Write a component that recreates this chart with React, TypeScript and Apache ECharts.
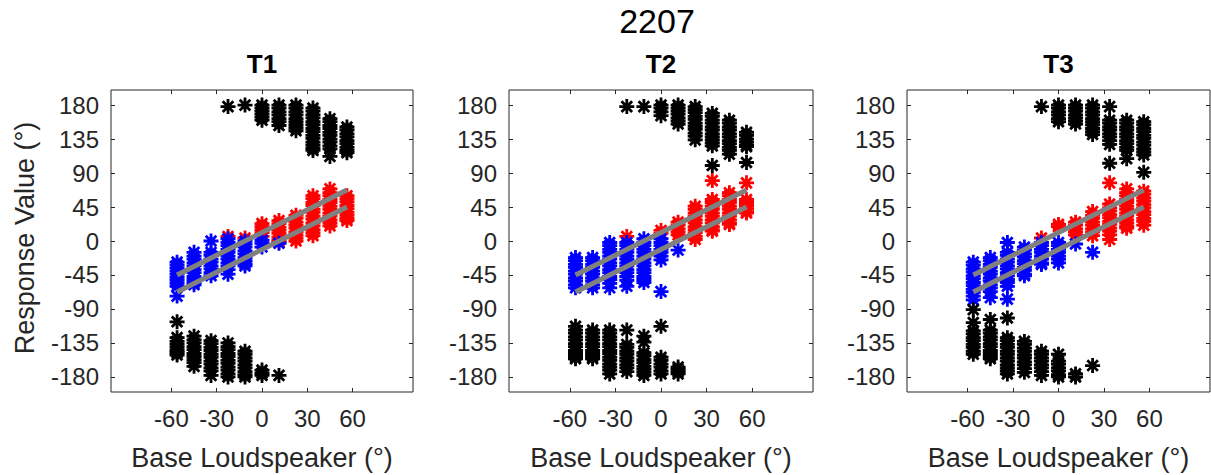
import React, { useEffect, useRef } from "react";
import * as echarts from "echarts";

// ---------- data ----------
const xCols = [-56.25, -45, -33.75, -22.5, -11.25, 0, 11.25, 22.5, 33.75, 45, 56.25];
const xTicks = [-60, -30, 0, 30, 60];
const yTicks = [-180, -135, -90, -45, 0, 45, 90, 135, 180];
const panelTitles = ["T1", "T2", "T3"];
const fitX = [-56.25, 56.25];
const upperFit = [-45, 67.5];
const lowerFit = [-67.5, 45];

// per column (aligned with xCols) response values
const t1Black = [
  [-107, -128, -133, -137, -141, -145, -148, -151],
  [-126, -131, -135, -140, -144, -149, -153, -157, -161, -166],
  [-132, -136, -141, -145, -150, -154, -159, -163, -168, -172, -178],
  [178, -135, -140, -144, -149, -153, -158, -162, -167, -171, -176, -180],
  [180, -146, -150, -155, -159, -164, -168, -173, -177, -180],
  [180, 176, 172, 168, 164, 160, -171, -175, -178],
  [180, 176, 171, 167, 162, 158, 153, -178],
  [180, 176, 171, 167, 162, 158, 154, 150, 146],
  [176, 172, 167, 163, 158, 154, 149, 145, 140, 136, 131, 127, 123, 120],
  [162, 158, 153, 149, 144, 140, 135, 131, 126, 122, 112],
  [151, 147, 142, 138, 133, 129, 124, 120, 117],
];
const t1Blue = [
  [-28, -32, -36, -40, -44, -48, -52, -56, -60, -73],
  [-15, -20, -24, -29, -33, -38, -42, -47, -51, -55, -58],
  [0, -15, -19, -24, -28, -33, -37, -42, -46],
  [3, -2, -6, -11, -15, -20, -24, -29, -33, -38, -44],
  [0, -4, -8, -13, -17, -22, -26, -30, -33],
  [1, -3, -8],
  [-3],
  [],
  [],
  [],
  [],
];
const t1Red = [
  [],
  [],
  [],
  [6],
  [4],
  [23, 19, 15, 11, 6],
  [27, 23, 18, 14, 10, 5, 1, -1],
  [34, 30, 25, 21, 17, 12, 8, 4, 0],
  [60, 56, 51, 47, 42, 38, 33, 29, 24, 20, 15, 11, 7],
  [69, 64, 60, 55, 51, 46, 42, 37, 33, 28, 24, 20],
  [60, 56, 52, 47, 43, 38, 34, 30, 27],
];

const t2Black = [
  [-113, -118, -122, -127, -131, -136, -140, -145, -149, -153, -156],
  [-118, -122, -127, -131, -136, -140, -145, -149, -153, -156],
  [-118, -122, -127, -131, -136, -140, -145, -149, -154, -158, -163, -167, -171, -176],
  [178, -118, -137, -141, -146, -150, -155, -159, -164, -168, -173],
  [178, -126, -134, -148, -152, -157, -161, -166, -170, -174, -178],
  [180, 176, 171, 166, -113, -154, -158, -163, -167, -172, -176],
  [180, 176, 172, 168, 163, 159, 155, -167, -170, -173, -176],
  [178, 174, 170, 165, 161, 156, 152, 148, 143, 139, 134],
  [169, 165, 160, 156, 151, 147, 142, 138, 134, 130, 126, 100],
  [160, 156, 151, 147, 142, 138, 133, 129, 124, 120, 115],
  [144, 140, 135, 131, 127, 125, 104],
];
const t2Blue = [
  [-22, -26, -31, -35, -40, -44, -49, -53, -58, -62],
  [-22, -26, -31, -35, -40, -44, -49, -53, -58, -62],
  [-2, -6, -11, -15, -20, -24, -29, -33, -38, -42, -47, -51, -56, -62],
  [-2, -6, -11, -15, -20, -24, -29, -33, -38, -42, -47, -52, -60],
  [3, -2, -6, -11, -15, -20, -24, -29, -33, -38, -42, -47, -51, -55],
  [3, -2, -6, -11, -15, -20, -25, -67],
  [-12],
  [],
  [],
  [],
  [],
];
const t2Red = [
  [],
  [],
  [],
  [6],
  [],
  [14, 10],
  [25, 21, 16, 12, 8],
  [46, 42, 37, 33, 28, 24, 19, 15, 11, 6, 2],
  [80, 55, 51, 46, 42, 37, 33, 28, 24, 19, 15, 13],
  [64, 60, 55, 51, 46, 42, 37, 33, 28, 24, 22],
  [77, 55, 51, 47, 43, 39, 37],
];

const t3Black = [
  [-91, -108, -119, -123, -128, -132, -137, -141, -146, -150],
  [-104, -118, -122, -127, -131, -136, -140, -145, -149, -153, -156],
  [-102, -128, -132, -137, -141, -146, -150, -155, -159, -164, -168, -172, -176],
  [-133, -137, -142, -146, -151, -155, -160, -164, -169, -174],
  [178, -146, -150, -155, -159, -164, -168, -173, -178],
  [180, 176, 171, 167, 162, 158, -150, -159, -163, -168, -172, -177, -180],
  [180, 176, 172, 167, 163, 159, 155, -176, -180],
  [180, 176, 171, 167, 162, 158, 154, 149, 145, 141, -165],
  [178, 160, 156, 151, 147, 142, 138, 133, 128, 103],
  [160, 156, 151, 147, 142, 138, 133, 129, 124, 120, 109],
  [158, 154, 149, 145, 140, 136, 131, 127, 122, 118, 114, 91],
];
const t3Blue = [
  [-28, -32, -37, -41, -46, -50, -55, -59, -64, -68, -73, -78],
  [-22, -26, -31, -35, -40, -44, -49, -53, -58, -62, -67, -75],
  [-2, -15, -19, -24, -28, -33, -37, -42, -46, -51, -55, -60, -77],
  [-8, -12, -17, -21, -26, -30, -35, -39, -44, -46],
  [-2, -6, -11, -15, -20, -24, -29, -31],
  [-2, -6, -11, -15, -20, -24, -29],
  [-4],
  [-15],
  [],
  [],
  [],
];
const t3Red = [
  [],
  [],
  [],
  [],
  [4],
  [22, 19],
  [25, 21, 16, 12, 8],
  [39, 34, 30, 25, 21, 16, 12, 7],
  [77, 49, 44, 40, 35, 31, 26, 22, 17, 13, 8, 2],
  [69, 64, 60, 55, 51, 46, 42, 37, 33, 28, 24, 20, 17],
  [66, 62, 57, 53, 48, 44, 39, 35, 30, 26, 21],
];

const panels = [
  { black: t1Black, blue: t1Blue, red: t1Red },
  { black: t2Black, blue: t2Blue, red: t2Red },
  { black: t3Black, blue: t3Blue, red: t3Red },
];

// ---------- layout ----------
const FONT = "'Liberation Sans', Arial, Helvetica, sans-serif";
const gridLefts = [111, 509, 907];
const gridWidths = [302, 304, 303];
const gridTop = 90;
const gridHeight = 302;
const AX = "#262626";
const ASTERISK =
  "path://M5,0L5,10M0,5L10,5M1.46,1.46L8.54,8.54M1.46,8.54L8.54,1.46";

function toPoints(cols: number[][]) {
  const out: number[][] = [];
  cols.forEach((ys, j) => ys.forEach((y) => out.push([xCols[j], y])));
  return out;
}

function buildOption() {
  const grid: any[] = [];
  const xAxis: any[] = [];
  const yAxis: any[] = [];
  const series: any[] = [];
  const graphic: any[] = [];

  panels.forEach((p, i) => {
    grid.push({
      left: gridLefts[i],
      top: gridTop,
      width: gridWidths[i],
      height: gridHeight,
      show: true,
      borderColor: AX,
      borderWidth: 1,
      backgroundColor: "#fff",
    });
    const tick = (vals: number[]) => ({
      show: true,
      inside: true,
      length: 4,
      customValues: vals,
      lineStyle: { color: AX, width: 1 },
    });
    ["bottom", "top"].forEach((pos) => {
      xAxis.push({
        type: "value",
        gridIndex: i,
        position: pos,
        min: -100,
        max: 100,
        axisLine: { show: false, onZero: false },
        splitLine: { show: false },
        axisTick: tick(xTicks),
        axisLabel: {
          show: pos === "bottom",
          customValues: xTicks,
          margin: 14,
          fontSize: 24,
          fontFamily: FONT,
          color: AX,
        },
      });
    });
    ["left", "right"].forEach((pos) => {
      yAxis.push({
        type: "value",
        gridIndex: i,
        position: pos,
        min: -200,
        max: 200,
        axisLine: { show: false, onZero: false },
        splitLine: { show: false },
        axisTick: tick(yTicks),
        axisLabel: {
          show: pos === "left",
          customValues: yTicks,
          margin: 12,
          fontSize: 24,
          fontFamily: FONT,
          color: AX,
        },
      });
    });

    const sc = (cols: number[][], color: string, z: number) => ({
      type: "scatter",
      xAxisIndex: 2 * i,
      yAxisIndex: 2 * i,
      data: toPoints(cols),
      symbol: ASTERISK,
      symbolSize: 15,
      z,
      itemStyle: { color, borderColor: color, borderWidth: 2.8, opacity: 1 },
    });
    series.push(sc(p.red, "#ff0000", 2));
    series.push(sc(p.blue, "#0000ff", 3));
    series.push(sc(p.black, "#000000", 4));
    [upperFit, lowerFit].forEach((fit) => {
      series.push({
        type: "line",
        xAxisIndex: 2 * i,
        yAxisIndex: 2 * i,
        data: fitX.map((x, k) => [x, fit[k]]),
        symbol: "none",
        z: 5,
        lineStyle: { color: "#808080", width: 5 },
      });
    });

    const cx = gridLefts[i] + gridWidths[i] / 2;
    graphic.push({
      type: "text",
      x: cx,
      y: 64,
      style: {
        text: panelTitles[i],
        font: `bold 26px ${FONT}`,
        fill: "#000",
        align: "center",
        verticalAlign: "middle",
        textAlign: "center",
        textVerticalAlign: "middle",
      },
    });
    graphic.push({
      type: "text",
      x: cx,
      y: 458,
      style: {
        text: "Base Loudspeaker (°)",
        font: `27px ${FONT}`,
        fill: AX,
        align: "center",
        verticalAlign: "middle",
        textAlign: "center",
        textVerticalAlign: "middle",
      },
    });
  });

  graphic.push({
    type: "text",
    x: 657,
    y: 21,
    style: {
      text: "2207",
      font: `34px ${FONT}`,
      fill: "#000",
      align: "center",
      verticalAlign: "middle",
      textAlign: "center",
      textVerticalAlign: "middle",
    },
  });
  graphic.push({
    type: "text",
    x: 25,
    y: 238,
    rotation: Math.PI / 2,
    style: {
      text: "Response Value (°)",
      font: `27px ${FONT}`,
      fill: AX,
      align: "center",
      verticalAlign: "middle",
      textAlign: "center",
      textVerticalAlign: "middle",
    },
  });

  return {
    animation: false,
    backgroundColor: "#ffffff",
    grid,
    xAxis,
    yAxis,
    series,
    graphic,
  };
}

export default function App() {
  const ref = useRef<HTMLDivElement>(null);
  useEffect(() => {
    if (!ref.current) return;
    const chart = echarts.init(ref.current, undefined, { renderer: "svg" });
    chart.setOption(buildOption() as any);
    return () => chart.dispose();
  }, []);
  return (
    <div
      ref={ref}
      style={{ position: "absolute", left: 0, top: 0, width: 1211, height: 475 }}
    />
  );
}
